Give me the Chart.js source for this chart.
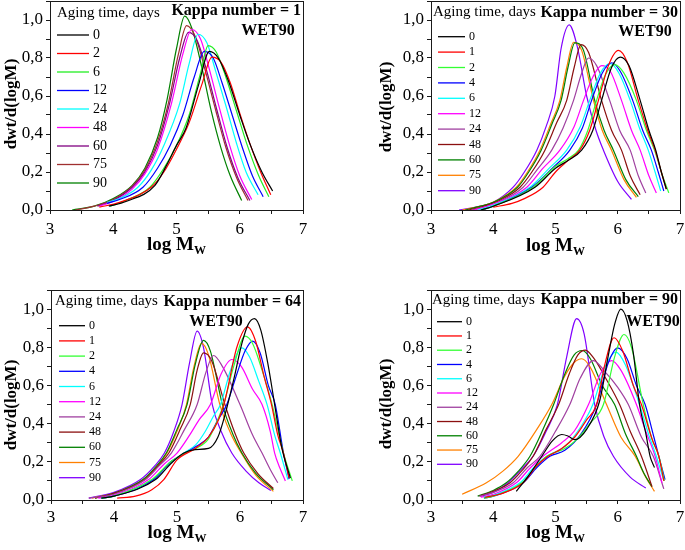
<!DOCTYPE html>
<html>
<head>
<meta charset="utf-8">
<script src="https://cdn.jsdelivr.net/npm/chart.js@4.4.1/dist/chart.umd.min.js"></script>
<style>
  html, body { margin: 0; padding: 0; background: #fff; }
  #wrap { position: relative; width: 685px; height: 550px; }
  canvas { position: absolute; }
</style>
</head>
<body>
<div id="wrap">
  <canvas id="c1" width="345" height="275" style="left:0;top:0"></canvas>
  <canvas id="c2" width="340" height="275" style="left:345px;top:0"></canvas>
  <canvas id="c3" width="345" height="275" style="left:0;top:275px"></canvas>
  <canvas id="c4" width="340" height="275" style="left:345px;top:275px"></canvas>
</div>
<script>
// ---- data: [log Mw, dwt/d(logM)] ----
const X_TICKS = [3, 4, 5, 6, 7];

const K1_DAYS = [0, 2, 6, 12, 24, 48, 60, 75, 90];
const K1_CURVES = [
  [[3.93,0.02],[4.2,0.045],[4.66,0.13],[4.85,0.24],[5.0,0.34],[5.15,0.43],[5.35,0.66],[5.52,0.835],[5.66,0.8],[5.82,0.68],[6.0,0.5],[6.17,0.34],[6.35,0.2],[6.52,0.1]],
  [[3.78,0.015],[4.1,0.04],[4.6,0.12],[4.8,0.2],[5.0,0.32],[5.2,0.46],[5.4,0.66],[5.56,0.805],[5.7,0.78],[5.85,0.67],[6.0,0.51],[6.17,0.34],[6.33,0.2],[6.49,0.08]],
  [[3.95,0.02],[4.2,0.05],[4.58,0.12],[4.8,0.22],[5.0,0.34],[5.2,0.5],[5.38,0.72],[5.5,0.865],[5.63,0.83],[5.78,0.7],[5.95,0.52],[6.12,0.34],[6.3,0.18],[6.46,0.07]],
  [[3.9,0.035],[4.1,0.055],[4.47,0.12],[4.7,0.22],[4.9,0.34],[5.1,0.5],[5.28,0.7],[5.44,0.835],[5.58,0.8],[5.72,0.67],[5.88,0.5],[6.05,0.32],[6.2,0.18],[6.37,0.07]],
  [[3.9,0.04],[4.1,0.06],[4.39,0.12],[4.6,0.21],[4.8,0.34],[5.05,0.56],[5.2,0.77],[5.34,0.925],[5.48,0.88],[5.62,0.73],[5.78,0.55],[5.95,0.35],[6.1,0.2],[6.29,0.08]],
  [[3.78,0.02],[4.0,0.045],[4.3,0.11],[4.5,0.19],[4.7,0.32],[4.92,0.56],[5.1,0.82],[5.24,0.95],[5.38,0.9],[5.52,0.74],[5.66,0.56],[5.84,0.34],[6.0,0.18],[6.19,0.055]],
  [[3.75,0.02],[4.0,0.05],[4.3,0.12],[4.5,0.2],[4.7,0.34],[4.89,0.56],[5.05,0.8],[5.19,0.935],[5.33,0.89],[5.48,0.73],[5.62,0.55],[5.8,0.33],[5.97,0.17],[6.16,0.05]],
  [[3.4,0.0],[3.7,0.02],[4.0,0.055],[4.3,0.125],[4.5,0.21],[4.7,0.36],[4.87,0.56],[5.03,0.82],[5.16,0.97],[5.3,0.91],[5.45,0.74],[5.6,0.55],[5.78,0.33],[5.95,0.17],[6.13,0.05]],
  [[3.35,0.0],[3.7,0.02],[4.0,0.06],[4.3,0.13],[4.5,0.22],[4.7,0.38],[4.85,0.58],[5.0,0.85],[5.13,1.02],[5.25,0.95],[5.4,0.75],[5.55,0.52],[5.7,0.33],[5.85,0.18],[6.03,0.05]]
];

const K30_DAYS = [0, 1, 2, 4, 6, 12, 24, 48, 60, 75, 90];
const K30_CURVES = [
  [[3.8,0.0],[4.0,0.02],[4.67,0.12],[5.0,0.22],[5.2,0.26],[5.42,0.315],[5.6,0.42],[5.74,0.577],[5.9,0.75],[6.04,0.805],[6.18,0.76],[6.36,0.577],[6.5,0.42],[6.61,0.315],[6.7,0.2],[6.78,0.11]],
  [[4.0,0.015],[4.3,0.035],[4.5,0.06],[4.8,0.12],[5.0,0.2],[5.2,0.26],[5.39,0.315],[5.55,0.42],[5.69,0.577],[5.85,0.76],[6.01,0.84],[6.15,0.78],[6.33,0.577],[6.48,0.42],[6.6,0.315],[6.7,0.2],[6.78,0.11]],
  [[3.8,0.0],[4.0,0.02],[4.64,0.12],[5.0,0.23],[5.2,0.27],[5.37,0.315],[5.52,0.42],[5.66,0.577],[5.8,0.71],[5.95,0.765],[6.1,0.72],[6.3,0.577],[6.46,0.42],[6.59,0.315],[6.72,0.18],[6.82,0.09]],
  [[3.8,0.0],[4.0,0.02],[4.62,0.12],[4.95,0.22],[5.23,0.315],[5.43,0.43],[5.58,0.577],[5.75,0.72],[5.9,0.775],[6.04,0.73],[6.24,0.577],[6.4,0.42],[6.54,0.315],[6.65,0.2],[6.74,0.1]],
  [[3.75,0.0],[4.0,0.025],[4.59,0.12],[4.9,0.22],[5.18,0.315],[5.4,0.44],[5.55,0.577],[5.72,0.72],[5.88,0.77],[6.02,0.72],[6.2,0.577],[6.35,0.43],[6.49,0.315],[6.6,0.2],[6.69,0.1]],
  [[3.7,0.0],[4.0,0.03],[4.54,0.12],[4.8,0.22],[5.07,0.315],[5.3,0.44],[5.45,0.577],[5.6,0.7],[5.74,0.76],[5.88,0.73],[6.06,0.577],[6.22,0.42],[6.36,0.315],[6.5,0.18],[6.62,0.09]],
  [[3.65,0.0],[3.9,0.02],[4.1,0.045],[4.48,0.12],[4.7,0.21],[4.94,0.315],[5.12,0.43],[5.29,0.577],[5.42,0.72],[5.53,0.8],[5.66,0.76],[5.87,0.577],[6.03,0.42],[6.2,0.315],[6.33,0.18],[6.45,0.09]],
  [[3.6,0.0],[3.85,0.02],[4.1,0.05],[4.43,0.12],[4.62,0.2],[4.83,0.315],[5.02,0.46],[5.18,0.577],[5.3,0.75],[5.41,0.87],[5.53,0.83],[5.74,0.577],[5.9,0.42],[6.06,0.315],[6.2,0.18],[6.36,0.08]],
  [[3.55,0.0],[3.8,0.02],[4.0,0.04],[4.39,0.12],[4.57,0.2],[4.77,0.315],[4.94,0.45],[5.09,0.577],[5.2,0.75],[5.31,0.88],[5.45,0.84],[5.63,0.577],[5.78,0.42],[5.93,0.315],[6.13,0.16],[6.33,0.07]],
  [[3.5,0.0],[3.8,0.02],[4.0,0.04],[4.37,0.12],[4.55,0.2],[4.75,0.315],[4.92,0.45],[5.07,0.577],[5.18,0.75],[5.29,0.883],[5.42,0.84],[5.61,0.577],[5.75,0.42],[5.9,0.315],[6.1,0.16],[6.3,0.066]],
  [[3.45,0.0],[3.8,0.02],[4.0,0.04],[4.32,0.12],[4.5,0.2],[4.7,0.315],[4.85,0.44],[4.99,0.6],[5.09,0.85],[5.22,0.974],[5.35,0.86],[5.5,0.6],[5.65,0.42],[5.77,0.315],[6.0,0.15],[6.22,0.056]]
];

const K64_DAYS = [0, 1, 2, 4, 6, 12, 24, 48, 60, 75, 90];
const K64_CURVES = [
  [[3.8,0.01],[4.0,0.02],[4.66,0.107],[4.9,0.19],[5.1,0.245],[5.29,0.264],[5.5,0.27],[5.65,0.33],[5.77,0.456],[5.9,0.63],[6.03,0.82],[6.13,0.92],[6.23,0.95],[6.33,0.89],[6.45,0.7],[6.55,0.5],[6.66,0.28],[6.8,0.115]],
  [[4.05,0.01],[4.34,0.02],[4.6,0.054],[4.79,0.107],[5.0,0.21],[5.29,0.27],[5.5,0.33],[5.66,0.42],[5.76,0.52],[5.95,0.8],[6.12,0.907],[6.25,0.83],[6.38,0.65],[6.5,0.5],[6.6,0.34],[6.69,0.246],[6.78,0.115]],
  [[3.8,0.01],[4.0,0.02],[4.6,0.107],[4.9,0.2],[5.13,0.246],[5.3,0.27],[5.5,0.32],[5.62,0.4],[5.74,0.5],[5.9,0.7],[6.08,0.858],[6.2,0.82],[6.35,0.68],[6.51,0.5],[6.62,0.34],[6.69,0.246],[6.83,0.1]],
  [[3.8,0.01],[4.0,0.02],[4.63,0.107],[4.9,0.2],[5.13,0.246],[5.3,0.28],[5.5,0.33],[5.65,0.42],[5.79,0.5],[5.95,0.66],[6.08,0.78],[6.2,0.832],[6.32,0.77],[6.45,0.6],[6.56,0.5],[6.69,0.246],[6.78,0.11]],
  [[3.8,0.01],[4.0,0.02],[4.61,0.107],[4.85,0.18],[5.11,0.246],[5.3,0.29],[5.45,0.36],[5.58,0.44],[5.69,0.5],[5.85,0.68],[6.03,0.797],[6.15,0.75],[6.3,0.62],[6.43,0.5],[6.55,0.34],[6.64,0.246],[6.76,0.107]],
  [[3.75,0.01],[4.0,0.025],[4.55,0.107],[4.8,0.19],[5.0,0.246],[5.2,0.34],[5.35,0.42],[5.53,0.5],[5.7,0.66],[5.87,0.736],[6.02,0.7],[6.2,0.58],[6.35,0.5],[6.48,0.36],[6.55,0.246],[6.63,0.17],[6.72,0.1]],
  [[3.6,0.01],[4.0,0.03],[4.5,0.107],[4.72,0.18],[4.91,0.246],[5.12,0.37],[5.32,0.5],[5.46,0.67],[5.58,0.757],[5.72,0.7],[6.0,0.5],[6.2,0.34],[6.35,0.246],[6.48,0.16],[6.6,0.09]],
  [[3.7,0.01],[4.0,0.035],[4.49,0.107],[4.7,0.18],[4.87,0.246],[5.05,0.37],[5.21,0.5],[5.32,0.68],[5.42,0.771],[5.55,0.73],[5.76,0.5],[5.92,0.35],[6.06,0.246],[6.28,0.14],[6.53,0.06]],
  [[3.7,0.01],[4.0,0.035],[4.46,0.107],[4.68,0.18],[4.83,0.246],[5.0,0.37],[5.16,0.5],[5.29,0.71],[5.42,0.836],[5.53,0.78],[5.72,0.5],[5.88,0.35],[6.03,0.246],[6.25,0.14],[6.53,0.054]],
  [[3.65,0.01],[4.0,0.035],[4.47,0.107],[4.7,0.18],[4.84,0.246],[5.0,0.36],[5.15,0.5],[5.27,0.7],[5.39,0.82],[5.5,0.76],[5.68,0.5],[5.85,0.35],[6.02,0.246],[6.25,0.13],[6.53,0.045]],
  [[3.6,0.01],[4.0,0.04],[4.42,0.107],[4.65,0.18],[4.8,0.246],[4.95,0.36],[5.08,0.5],[5.2,0.72],[5.32,0.885],[5.42,0.8],[5.56,0.5],[5.7,0.36],[5.87,0.246],[6.1,0.15],[6.3,0.09],[6.49,0.05]]
];

const K90_DAYS = [0, 1, 2, 4, 6, 12, 24, 48, 60, 75, 90];
const K90_CURVES = [
  [[4.37,0.045],[4.55,0.12],[4.78,0.229],[4.95,0.31],[5.1,0.343],[5.2,0.335],[5.31,0.316],[5.5,0.37],[5.71,0.52],[5.85,0.76],[5.95,0.92],[6.05,1.0],[6.15,0.94],[6.25,0.77],[6.35,0.5],[6.45,0.35],[6.52,0.229],[6.59,0.17]],
  [[3.87,0.014],[4.1,0.03],[4.48,0.09],[4.7,0.18],[4.88,0.229],[5.1,0.27],[5.31,0.33],[5.5,0.42],[5.66,0.5],[5.8,0.72],[5.94,0.85],[6.08,0.78],[6.25,0.6],[6.38,0.5],[6.55,0.32],[6.66,0.229],[6.74,0.1]],
  [[3.85,0.01],[4.0,0.02],[4.46,0.09],[4.7,0.18],[4.86,0.229],[5.15,0.27],[5.34,0.316],[5.55,0.4],[5.77,0.5],[5.95,0.75],[6.1,0.867],[6.22,0.8],[6.41,0.5],[6.55,0.32],[6.66,0.229],[6.75,0.1]],
  [[3.85,0.01],[4.0,0.02],[4.48,0.09],[4.7,0.17],[4.91,0.229],[5.15,0.26],[5.42,0.35],[5.66,0.5],[5.85,0.72],[6.0,0.797],[6.15,0.74],[6.3,0.6],[6.44,0.5],[6.58,0.33],[6.66,0.229],[6.76,0.107]],
  [[3.85,0.015],[4.0,0.025],[4.43,0.09],[4.65,0.17],[4.86,0.229],[5.15,0.28],[5.42,0.39],[5.6,0.5],[5.8,0.7],[5.97,0.775],[6.12,0.71],[6.35,0.5],[6.5,0.34],[6.62,0.229],[6.74,0.1]],
  [[3.8,0.015],[4.0,0.03],[4.37,0.09],[4.6,0.17],[4.8,0.229],[5.1,0.3],[5.3,0.36],[5.53,0.5],[5.72,0.66],[5.9,0.73],[6.05,0.68],[6.3,0.5],[6.45,0.36],[6.6,0.229],[6.71,0.09]],
  [[3.78,0.02],[4.0,0.04],[4.32,0.09],[4.55,0.17],[4.75,0.229],[5.0,0.36],[5.23,0.5],[5.4,0.64],[5.61,0.73],[5.8,0.67],[6.0,0.59],[6.17,0.5],[6.38,0.33],[6.57,0.229],[6.74,0.058]],
  [[3.78,0.02],[4.0,0.045],[4.27,0.09],[4.45,0.15],[4.64,0.229],[4.85,0.37],[5.05,0.5],[5.22,0.66],[5.36,0.76],[5.48,0.785],[5.62,0.74],[5.82,0.63],[6.03,0.5],[6.2,0.36],[6.38,0.229],[6.55,0.07]],
  [[3.75,0.02],[4.0,0.05],[4.21,0.09],[4.4,0.15],[4.59,0.229],[4.8,0.37],[4.97,0.5],[5.15,0.66],[5.3,0.76],[5.43,0.783],[5.56,0.74],[5.75,0.6],[5.95,0.5],[6.12,0.35],[6.3,0.229],[6.42,0.14],[6.55,0.07]],
  [[3.5,0.03],[3.89,0.09],[4.15,0.15],[4.4,0.229],[4.7,0.37],[4.94,0.5],[5.15,0.65],[5.3,0.72],[5.42,0.74],[5.55,0.7],[5.82,0.5],[6.05,0.33],[6.28,0.229],[6.45,0.12],[6.59,0.045]],
  [[3.8,0.02],[4.0,0.04],[4.24,0.09],[4.45,0.16],[4.64,0.229],[4.85,0.36],[5.03,0.5],[5.18,0.75],[5.34,0.95],[5.46,0.87],[5.63,0.5],[5.78,0.33],[5.93,0.229],[6.2,0.12],[6.45,0.063]]
];

// ---- colours ----
const COLORS_K1 = ["#000000", "#ff0000", "#22ee22", "#0000ff", "#00ffff", "#ff00ff", "#800080", "#a03030", "#008000"];
const COLORS_ALL = ["#000000", "#ff0000", "#33ff33", "#0000ff", "#00ffff", "#ff00ff", "#a040a0", "#8b1010", "#008000", "#ff8000", "#8000ff"];

const SERIF = "'Liberation Serif', 'Times New Roman', serif";
const AXIS_COLOR = "#1a1a1a";

function fmt(v) {
  return v.toFixed(1).replace(".", ",");
}

// texts / legend drawn on top of each panel
const panelDeco = {
  id: "panelDeco",
  afterDatasetsDraw(chart, args, o) {
    const ctx = chart.ctx;
    const a = chart.chartArea;
    ctx.save();
    // frame
    ctx.strokeStyle = AXIS_COLOR;
    ctx.lineWidth = 1;
    ctx.strokeRect(Math.round(a.left) + 0.5, Math.round(a.top) + 0.5, Math.round(a.right - a.left), Math.round(a.bottom - a.top));

    ctx.fillStyle = "#000";
    ctx.textBaseline = "middle";
    // legend title
    ctx.font = "15px " + SERIF;
    ctx.textAlign = "left";
    ctx.fillText("Aging time, days", o.legX, o.legTitleY);
    // legend entries
    ctx.font = o.legFont + "px " + SERIF;
    chart.data.datasets.forEach(function(ds, i) {
      const y = o.legY + i * o.legStep;
      ctx.strokeStyle = ds.borderColor;
      ctx.lineWidth = 1.3;
      ctx.beginPath();
      ctx.moveTo(o.lineX0, y);
      ctx.lineTo(o.lineX1, y);
      ctx.stroke();
      ctx.fillText(ds.label, o.lineX1 + 4, y);
    });
    // kappa title
    ctx.font = "bold 16px " + SERIF;
    ctx.textAlign = "right";
    ctx.fillText(o.kappa, a.right - 2, o.kappaY);
    ctx.textAlign = "center";
    ctx.fillText("WET90", o.wetX, o.wetY);

    // x title with subscript
    const cx = (a.left + a.right) / 2;
    const ty = a.bottom + o.xTitleDy;
    ctx.font = "bold 19px " + SERIF;
    const w1 = ctx.measureText("log M").width;
    ctx.font = "bold 12px " + SERIF;
    const w2 = ctx.measureText("W").width;
    const sx = cx - (w1 + w2) / 2;
    ctx.textAlign = "left";
    ctx.font = "bold 19px " + SERIF;
    ctx.fillText("log M", sx, ty);
    ctx.font = "bold 12px " + SERIF;
    ctx.fillText("W", sx + w1, ty + 6);

    // y title
    ctx.translate(o.yTitleX, o.yTitleY);
    ctx.rotate(-Math.PI / 2);
    ctx.textAlign = "center";
    ctx.font = "bold 17px " + SERIF;
    ctx.fillText("dwt/d(logM)", 0, 0);
    ctx.restore();
  }
};

function makePanel(id, days, curves, colors, g) {
  const datasets = curves.map(function(pts, i) {
    return {
      label: String(days[i]),
      data: pts.map(function(p) { return { x: p[0], y: p[1] }; }),
      borderColor: colors[i],
      borderWidth: 1.2,
      pointRadius: 0,
      fill: false,
      cubicInterpolationMode: "monotone"
    };
  });
  return new Chart(document.getElementById(id), {
    type: "line",
    data: { datasets: datasets },
    plugins: [panelDeco],
    options: {
      responsive: false,
      animation: false,
      layout: { padding: { left: 0, top: g.padTop, right: g.padRight, bottom: 0 } },
      plugins: { legend: { display: false }, tooltip: { enabled: false }, panelDeco: g.deco },
      scales: {
        x: {
          type: "linear", min: 3, max: 7,
          border: { display: false },
          grid: { drawOnChartArea: false, drawTicks: true, tickLength: 4, color: AXIS_COLOR },
          ticks: {
            stepSize: 0.5, autoSkip: false, maxRotation: 0, padding: g.xPad,
            color: "#000", font: { family: SERIF, size: 17 },
            callback: function(v) { return X_TICKS.indexOf(v) >= 0 ? String(v) : ""; }
          },
          afterFit: function(s) { s.height = g.xH; s.paddingLeft = 0; s.paddingRight = 0; }
        },
        y: {
          min: 0, max: 1.1,
          border: { display: false },
          grid: { drawOnChartArea: false, drawTicks: true, tickLength: 4, color: AXIS_COLOR },
          ticks: {
            stepSize: 0.1, autoSkip: false, padding: 3,
            color: "#000", font: { family: SERIF, size: 17 },
            callback: function(v) {
              const k = Math.round(v * 10);
              return (k % 2 === 0 && k <= 10) ? fmt(k / 10) : "";
            }
          },
          afterFit: function(s) { s.width = g.yW; s.paddingTop = 0; s.paddingBottom = 0; }
        }
      }
    }
  });
}

makePanel("c1", K1_DAYS, K1_CURVES, COLORS_K1, {
  padTop: 1, padRight: 42, xH: 65, yW: 50, xPad: 5,
  deco: { legX: 57, legTitleY: 13, legFont: 14, legY: 35, legStep: 18.5, lineX0: 57, lineX1: 89,
          kappa: "Kappa number = 1", kappaY: 11, wetX: 268, wetY: 31,
          xTitleDy: 35, yTitleX: 12, yTitleY: 104 }
});
makePanel("c2", K30_DAYS, K30_CURVES, COLORS_ALL, {
  padTop: 1, padRight: 5, xH: 65, yW: 86, xPad: 5,
  deco: { legX: 88, legTitleY: 12, legFont: 12, legY: 36.7, legStep: 15.4, lineX0: 93, lineX1: 120,
          kappa: "Kappa number = 30", kappaY: 13, wetX: 300, wetY: 32,
          xTitleDy: 36, yTitleX: 42, yTitleY: 107 }
});
makePanel("c3", K64_DAYS, K64_CURVES, COLORS_ALL, {
  padTop: 15, padRight: 42, xH: 50, yW: 51, xPad: 3,
  deco: { legX: 55, legTitleY: 26, legFont: 12, legY: 50.7, legStep: 15.2, lineX0: 59, lineX1: 85,
          kappa: "Kappa number = 64", kappaY: 27, wetX: 216, wetY: 47,
          xTitleDy: 33, yTitleX: 12, yTitleY: 130 }
});
makePanel("c4", K90_DAYS, K90_CURVES, COLORS_ALL, {
  padTop: 15, padRight: 5, xH: 50, yW: 86, xPad: 3,
  deco: { legX: 87, legTitleY: 25, legFont: 12, legY: 46.7, legStep: 14.26, lineX0: 92, lineX1: 117,
          kappa: "Kappa number = 90", kappaY: 25, wetX: 308, wetY: 47,
          xTitleDy: 33, yTitleX: 42, yTitleY: 129 }
});
</script>
</body>
</html>
